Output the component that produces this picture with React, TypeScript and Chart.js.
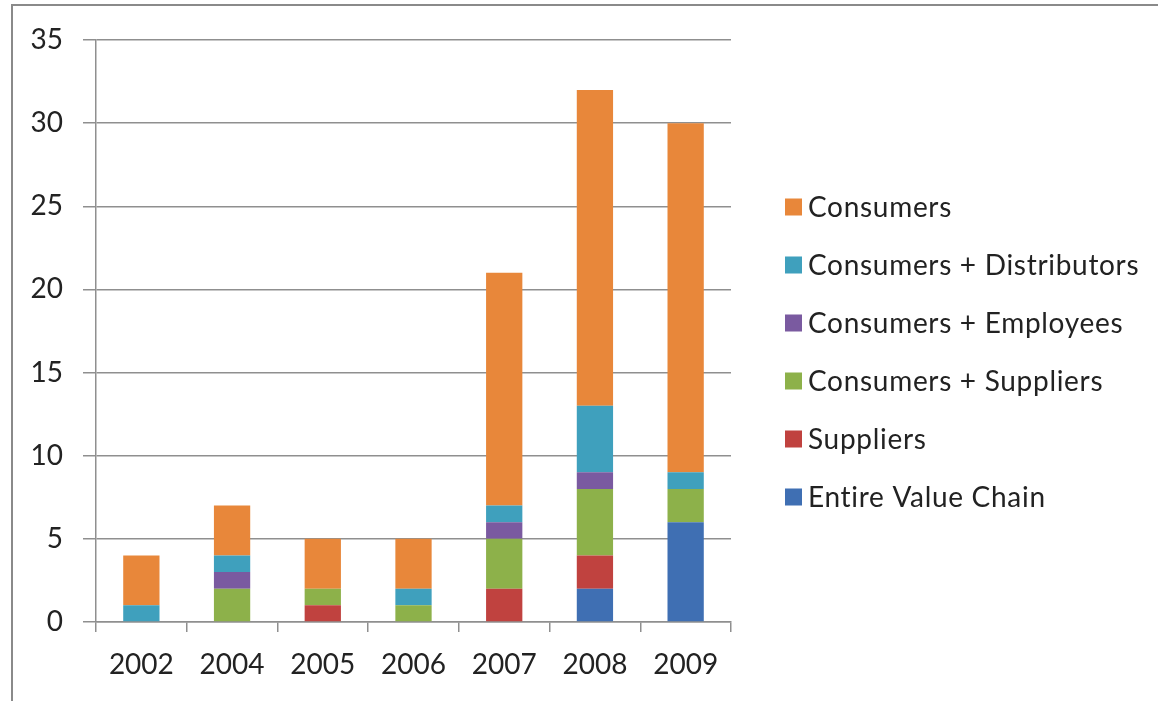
import React, { useEffect, useRef } from "react";
import { Chart, registerables } from "chart.js";

Chart.register(...registerables);

const years = ["2002", "2004", "2005", "2006", "2007", "2008", "2009"];
const entireValueChain = [0, 0, 0, 0, 0, 2, 6];
const suppliers = [0, 0, 1, 0, 2, 2, 0];
const consumersSuppliers = [0, 2, 1, 1, 3, 4, 2];
const consumersEmployees = [0, 1, 0, 0, 1, 1, 0];
const consumersDistributors = [1, 1, 0, 1, 1, 4, 1];
const consumers = [3, 3, 3, 3, 14, 19, 21];
const yTicks = [0, 5, 10, 15, 20, 25, 30, 35];

const FONT = "Lato, 'Open Sans', sans-serif";
const FONT_SIZE = 28;
const GRID = "#8f8f8f";
const TEXT = "#222";

const LEGEND_X = 785;
const LEGEND_Y = 207;
const LEGEND_STEP = 58;
const LEGEND_BOX = 17;
const LEGEND_GAP = 6;

const sideLegend = {
  id: "sideLegend",
  afterDraw(chart: any) {
    const ctx = chart.ctx as CanvasRenderingContext2D;
    const ds = chart.data.datasets;
    ctx.save();
    ctx.font = `${FONT_SIZE}px ${FONT}`;
    (ctx as any).letterSpacing = "0.7px";
    ctx.textBaseline = "middle";
    ctx.textAlign = "left";
    for (let i = 0; i < ds.length; i++) {
      const d = ds[ds.length - 1 - i];
      const cy = LEGEND_Y + i * LEGEND_STEP;
      ctx.fillStyle = d.backgroundColor as string;
      ctx.fillRect(LEGEND_X, cy - LEGEND_BOX / 2, LEGEND_BOX, LEGEND_BOX);
      ctx.fillStyle = TEXT;
      ctx.fillText(d.label, LEGEND_X + LEGEND_BOX + LEGEND_GAP, cy + 1);
    }
    ctx.restore();
  },
};

export default function App() {
  const ref = useRef<HTMLCanvasElement>(null);
  useEffect(() => {
    const ctx = ref.current!;
    const chart = new Chart(ctx, {
      type: "bar",
      data: {
        labels: years,
        datasets: [
          { label: "Entire Value Chain", data: entireValueChain, backgroundColor: "#3F6FB3" },
          { label: "Suppliers", data: suppliers, backgroundColor: "#C0423F" },
          { label: "Consumers + Suppliers", data: consumersSuppliers, backgroundColor: "#8DB14A" },
          { label: "Consumers + Employees", data: consumersEmployees, backgroundColor: "#7A5AA0" },
          { label: "Consumers + Distributors", data: consumersDistributors, backgroundColor: "#3FA0BD" },
          { label: "Consumers", data: consumers, backgroundColor: "#E8873A" },
        ],
      },
      options: {
        animation: false,
        responsive: false,
        maintainAspectRatio: false,
        layout: { padding: { top: 40, bottom: 0, left: 0, right: 427 } },
        datasets: { bar: { barPercentage: 0.4, categoryPercentage: 1, borderWidth: 0 } },
        plugins: {
          tooltip: { enabled: false },
          legend: { display: false },
        },
        scales: {
          x: {
            stacked: true,
            afterFit: (s: any) => {
              s.height = 79;
            },
            grid: {
              display: true,
              drawOnChartArea: false,
              drawTicks: true,
              tickLength: 10,
              color: GRID,
              lineWidth: 1.5,
              offset: true,
            },
            border: { display: true, color: GRID, width: 1.5 },
            ticks: { color: TEXT, font: { family: FONT, size: FONT_SIZE }, padding: 16, maxRotation: 0 },
          },
          y: {
            stacked: true,
            min: 0,
            max: 35,
            afterFit: (s: any) => {
              s.width = 96;
            },
            afterBuildTicks: (s: any) => {
              s.ticks = yTicks.map((v) => ({ value: v }));
            },
            grid: {
              color: GRID,
              lineWidth: 1.5,
              drawTicks: true,
              tickLength: 13,
            },
            border: { display: true, color: GRID, width: 1.5 },
            ticks: { color: TEXT, font: { family: FONT, size: FONT_SIZE }, padding: 20 },
          },
        },
      },
      plugins: [sideLegend],
    });
    return () => chart.destroy();
  }, []);

  return (
    <div style={{ position: "absolute", left: 0, top: 0, width: 1158, height: 701, background: "#fff", overflow: "hidden" }}>
      <div
        style={{
          position: "absolute",
          left: 11,
          top: 4,
          width: 1200,
          height: 800,
          borderLeft: "2px solid #8a8a8a",
          borderTop: "2px solid #8a8a8a",
        }}
      />
      <canvas ref={ref} width={1158} height={701} style={{ position: "absolute", left: 0, top: 0, width: 1158, height: 701 }} />
    </div>
  );
}
